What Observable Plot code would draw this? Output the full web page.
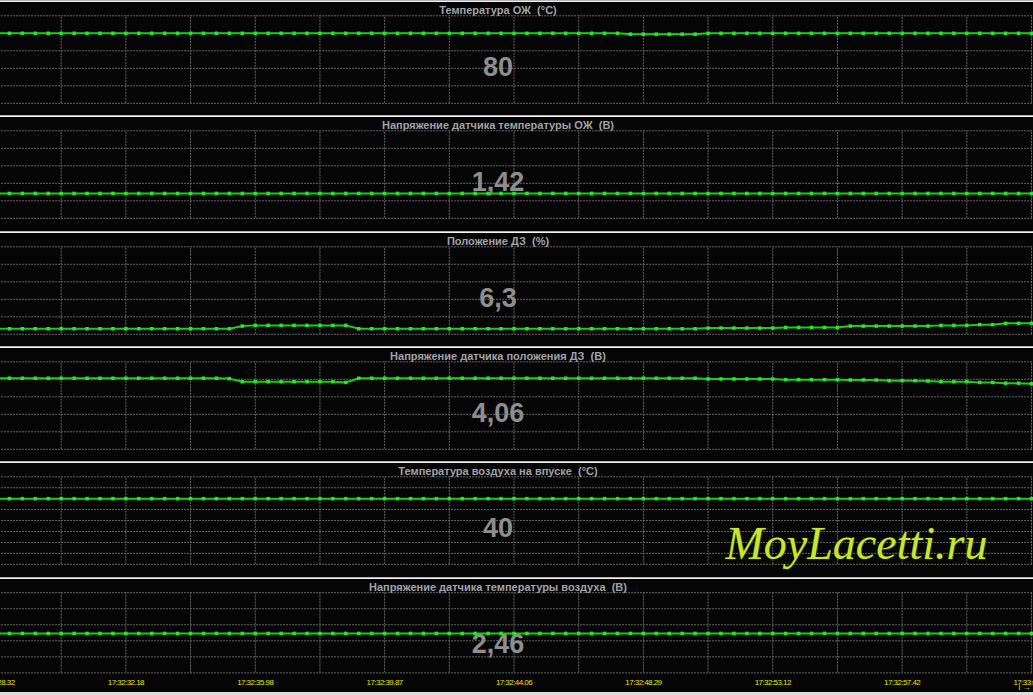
<!DOCTYPE html>
<html><head><meta charset="utf-8">
<script src="https://cdn.jsdelivr.net/npm/d3@7"></script>
<script src="https://cdn.jsdelivr.net/npm/@observablehq/plot@0.6"></script>
<style>
html,body{margin:0;padding:0;background:#dedede;overflow:hidden;width:1033px;height:695px}
#chart{width:1033px;background:#050505}
.panel{position:relative;width:1033px;overflow:hidden;background:#050505}
.panel::before{content:"";position:absolute;left:0;top:0;width:100%;height:1px;background:#b4b4b4;z-index:2}
.panel::after{content:"";position:absolute;left:0;top:1px;width:100%;height:1px;background:#f2f2f2;z-index:2}
.panel svg{display:block}
g[aria-label="x-axis tick label"] text{letter-spacing:-0.55px}
</style>
</head><body>
<div id="chart"></div>
<script>
// ---- data ----
const titles = [
  "Температура ОЖ  (°C)",
  "Напряжение датчика температуры ОЖ  (В)",
  "Положение ДЗ  (%)",
  "Напряжение датчика положения ДЗ  (В)",
  "Температура воздуха на впуске  (°C)",
  "Напряжение датчика температуры воздуха  (В)"
];
const valueLabels = ["80", "1,42", "6,3", "4,06", "40", "2,46"];
const timeLabels = ["17:32:28.32","17:32:32.18","17:32:35.98","17:32:39.87","17:32:44.06",
                    "17:32:48.29","17:32:53.12","17:32:57.42","17:33:01.72"];

const coolantTemp = [
  80,80,80,80,80,80,80,80,80,80,
  80,80,80,80,80,80,80,80,80,80,
  80,80,80,80,80,80,80,80,80,80,
  80,80,80,80,80,80,80,80,80,80,
  80,80,80,80,80,80,80,80,80,79,
  79,79,79,79,79,80,80,80,80,80,
  80,80,80,80,80,80,80,80,80,80,
  80,80,80,80,80,80,80,80,80,80,
  80];
const coolantVolt = [
  1.42,1.42,1.42,1.42,1.42,1.42,1.42,1.42,1.42,1.42,
  1.42,1.42,1.42,1.42,1.42,1.42,1.42,1.42,1.42,1.42,
  1.42,1.42,1.42,1.42,1.42,1.42,1.42,1.42,1.42,1.42,
  1.42,1.42,1.42,1.42,1.42,1.42,1.42,1.42,1.42,1.42,
  1.42,1.42,1.42,1.42,1.42,1.42,1.42,1.42,1.42,1.42,
  1.42,1.42,1.42,1.42,1.42,1.42,1.42,1.42,1.42,1.42,
  1.42,1.42,1.42,1.42,1.42,1.42,1.42,1.42,1.42,1.42,
  1.42,1.42,1.42,1.42,1.42,1.42,1.42,1.42,1.42,1.42,
  1.42];
const throttlePos = [
  6.3,6.3,6.3,6.3,6.3,6.3,6.3,6.3,6.3,6.3,
  6.3,6.3,6.3,6.3,6.3,6.3,6.3,6.3,6.3,9.4,
  10.2,10.2,10.2,10.2,10.2,10.2,10.2,10.2,6.3,6.3,
  6.3,6.3,6.3,6.3,6.3,6.3,6.3,6.3,6.3,6.3,
  6.3,6.3,6.3,6.3,6.3,6.3,6.3,6.3,6.3,6.3,
  6.3,6.3,6.3,6.3,6.3,7.1,7.1,7.1,7.1,7.1,
  7.1,7.8,7.8,7.8,7.8,7.8,9.4,9.4,9.4,9.4,
  9.4,9.4,9.4,10.2,10.2,10.2,11.0,11.0,12.5,12.5,
  12.5];
const throttleVolt = [
  4.06,4.06,4.06,4.06,4.06,4.06,4.06,4.06,4.06,4.06,
  4.06,4.06,4.06,4.06,4.06,4.06,4.06,4.06,4.04,3.86,
  3.86,3.86,3.86,3.86,3.86,3.86,3.86,3.82,4.06,4.06,
  4.06,4.06,4.06,4.06,4.06,4.06,4.06,4.06,4.06,4.06,
  4.06,4.06,4.06,4.06,4.06,4.06,4.06,4.06,4.06,4.06,
  4.06,4.06,4.06,4.06,4.06,4.02,4.02,4.02,4.02,4.02,
  4.02,3.98,3.98,3.98,3.98,3.98,3.96,3.96,3.96,3.92,
  3.92,3.92,3.90,3.86,3.86,3.86,3.82,3.82,3.78,3.78,
  3.74];
const intakeTemp = [
  40,40,40,40,40,40,40,40,40,40,
  40,40,40,40,40,40,40,40,40,40,
  40,40,40,40,40,40,40,40,40,40,
  40,40,40,40,40,40,40,40,40,40,
  40,40,40,40,40,40,40,40,40,40,
  40,40,40,40,40,40,40,40,40,40,
  40,40,40,40,40,40,40,40,40,40,
  40,40,40,40,40,40,40,40,40,40,
  40];
const intakeVolt = [
  2.46,2.46,2.46,2.46,2.46,2.46,2.46,2.46,2.46,2.46,
  2.46,2.46,2.46,2.46,2.46,2.46,2.46,2.46,2.46,2.46,
  2.46,2.46,2.46,2.46,2.46,2.46,2.46,2.46,2.46,2.46,
  2.46,2.46,2.46,2.46,2.46,2.46,2.46,2.46,2.46,2.46,
  2.46,2.46,2.46,2.46,2.46,2.46,2.46,2.46,2.46,2.46,
  2.46,2.46,2.46,2.46,2.46,2.46,2.46,2.46,2.46,2.46,
  2.46,2.46,2.46,2.46,2.46,2.46,2.46,2.46,2.46,2.46,
  2.46,2.46,2.46,2.46,2.46,2.46,2.46,2.46,2.46,2.46,
  2.46];
const series = [coolantTemp, coolantVolt, throttlePos, throttleVolt, intakeTemp, intakeVolt];
const yDomains = [[0,100],[0,5],[0,100],[0,5],[-20,60],[0,5]];
const gridCounts = [6,6,6,6,9,6];
const watermark = "MoyLacetti.ru";

// ---- layout / style ----
const panelHeights = [115,116,115,115,116,115];
const gridColor = "#666666";
const font = "'Liberation Sans', Arial, sans-serif";

const chart = document.getElementById("chart");
const nSamples = coolantTemp.length;
const idx = d3.range(nSamples);
const vGrid = d3.range(0, nSamples, 5);
const labelTicks = d3.range(0, nSamples, 10);

series.forEach((vals, k) => {
  const data = idx.map(i => ({i, v: vals[i]}));
  const [lo, hi] = yDomains[k];
  const n = gridCounts[k];
  const gridVals = d3.range(n).map(j => lo + j * (hi - lo) / (n - 1));
  const last = k === series.length - 1;
  const H = panelHeights[k];
  const marks = [
    Plot.ruleY(gridVals, {x1: -1, x2: nSamples, stroke: gridColor, strokeWidth: 1, strokeDasharray: "2,1"}),
    Plot.ruleX(vGrid, {y1: lo, y2: hi, stroke: gridColor, strokeWidth: 1, strokeDasharray: "2,1"}),
    Plot.text([titles[k]], {text: d => d, frameAnchor: "top", dx: -19, dy: 13.4, lineAnchor: "bottom",
      fill: "#a0a3a7", fontSize: 11, fontWeight: "bold"}),
    Plot.text([valueLabels[k]], {text: d => d, frameAnchor: "top", dx: -19, dy: 75, lineAnchor: "bottom",
      fill: "#8e8e8e", fontSize: 27, fontWeight: "bold"})
  ];
  if (k === 4) {
    marks.push(Plot.text([watermark], {text: d => d, frameAnchor: "top-left", dx: 725, dy: 97,
      textAnchor: "start", lineAnchor: "bottom", fontFamily: "'Liberation Serif', serif",
      fontStyle: "italic", fontSize: 46, fill: "#c8e62c", stroke: "#243000", strokeWidth: 1.2}));
  }
  marks.push(
    Plot.line(data, {x: "i", y: "v", stroke: "#1ccc1c", strokeWidth: 2}),
    Plot.dot(data, {x: "i", y: "v", symbol: "square", r: 2, fill: "#26e826"})
  );
  if (last) {
    marks.push(Plot.axisX(labelTicks, {anchor: "bottom", tickSize: 0, tickPadding: 3,
      tickFormat: i => timeLabels[i / 10], fill: "#e6e600", fontSize: 8}));
  }
  const svg = Plot.plot({
    width: 1033, height: H,
    marginTop: 0, marginRight: 0, marginLeft: 0, marginBottom: last ? 16.4 : 0,
    style: {background: "transparent", fontFamily: font, overflow: "hidden"},
    x: {domain: [0, nSamples - 1], range: [-4, 1031], axis: null},
    y: {domain: [lo, hi], range: last ? [95.4, 15.2] : [102.8, 15.3], axis: null},
    marks
  });
  const div = document.createElement("div");
  div.className = "panel";
  div.style.height = H + "px";
  div.appendChild(svg);
  chart.appendChild(div);
});
</script>
</body></html>
